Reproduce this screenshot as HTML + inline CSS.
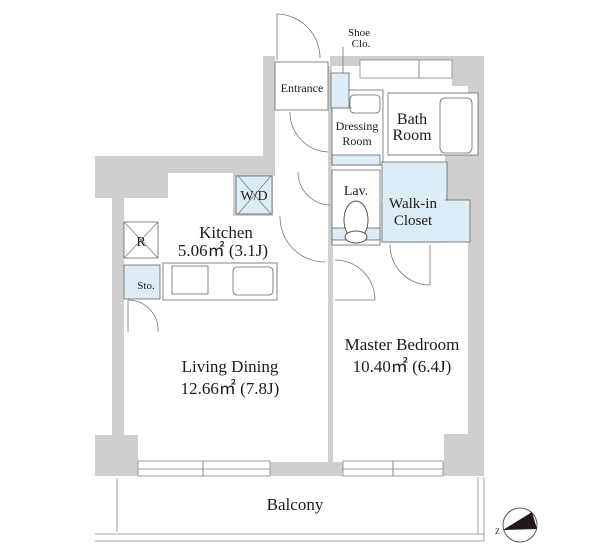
<!DOCTYPE html>
<html><head><meta charset="utf-8"><style>
html,body{margin:0;padding:0;background:#fff;width:600px;height:557px;overflow:hidden}
svg{display:block}
text{font-family:"Liberation Serif",serif;fill:#231815}
</style></head><body>
<svg width="600" height="557" viewBox="0 0 600 557" xmlns="http://www.w3.org/2000/svg">
<g fill="#cfcfcf" stroke="none">
<rect x="263" y="56" width="12" height="120"/>
<rect x="330" y="56" width="150" height="10"/>
<rect x="468" y="56" width="16" height="420"/>
<rect x="452" y="56" width="32" height="30"/>
<rect x="445" y="155" width="30" height="50"/>
<rect x="95" y="156" width="175" height="17"/>
<rect x="95" y="156" width="73" height="42"/>
<rect x="112" y="156" width="12" height="310"/>
<rect x="95" y="435" width="43" height="41"/>
<rect x="444" y="434" width="40" height="42"/>
<rect x="95" y="462" width="389" height="14"/>
<rect x="328" y="245" width="5" height="217"/>
<rect x="328" y="66" width="4" height="180"/>
<rect x="233" y="173" width="40" height="43"/>
</g>
<g fill="#fff" stroke="#888" stroke-width="0.8">
<rect x="138" y="461" width="132" height="9"/><rect x="138" y="469" width="132" height="7"/>
<rect x="343" y="461" width="100" height="9"/><rect x="343" y="469" width="100" height="7"/>
<rect x="360" y="60" width="92" height="18"/>
</g>
<line x1="203" y1="461" x2="203" y2="476" stroke="#888"/>
<line x1="393" y1="461" x2="393" y2="476" stroke="#888"/>
<line x1="419" y1="60" x2="419" y2="78" stroke="#888"/>
<g fill="#fff" stroke="#666" stroke-width="0.8">
<rect x="275" y="62" width="53" height="48"/>
<rect x="238" y="176" width="33" height="38"/>
<rect x="332" y="90" width="51" height="75"/>
<rect x="388" y="93" width="90" height="62"/>
<rect x="332" y="170" width="48" height="75"/>
<rect x="124" y="222" width="34" height="36"/>
<rect x="163" y="263" width="114" height="37"/>
<rect x="350" y="95" width="30" height="18" rx="4"/>
<rect x="440" y="98" width="32" height="55" rx="5"/>
<rect x="233" y="267" width="40" height="28" rx="4"/>
<rect x="172" y="266" width="36" height="28"/>
</g>
<g fill="#dcedf7" stroke="#666" stroke-width="0.8">
<rect x="331" y="73" width="18" height="35"/>
<rect x="236" y="176" width="36" height="38"/>
<rect x="382" y="162" width="65" height="80"/>
<rect x="382" y="200" width="88" height="42"/>
<rect x="124" y="265" width="36" height="34"/>
<rect x="332" y="155" width="48" height="10"/>
<rect x="332" y="228" width="48" height="12"/>
</g>
<line x1="382" y1="200" x2="445" y2="200" stroke="#dcedf7" stroke-width="1.5"/>
<ellipse cx="356" cy="220" rx="12" ry="19" fill="#fff" stroke="#555"/>
<ellipse cx="356" cy="237" rx="11" ry="6" fill="#fff" stroke="#555"/>
<g fill="none" stroke="#777" stroke-width="0.8">
<path d="M277 14 A44 44 0 0 1 320 58"/><line x1="277" y1="14" x2="277" y2="60"/>
<path d="M290 112 A40 40 0 0 0 328 152"/>
<path d="M280 216 A45 45 0 0 0 325 262"/>
<path d="M298 172 A33 33 0 0 0 330 205"/>
<path d="M335 260 A40 40 0 0 1 375 300"/><line x1="335" y1="300" x2="375" y2="300"/>
<path d="M390 245 A40 40 0 0 0 430 285"/><line x1="430" y1="245" x2="430" y2="285"/>
<path d="M128 300 A30 30 0 0 1 158 332"/><line x1="128" y1="300" x2="128" y2="332"/>
<line x1="238" y1="176" x2="271" y2="214"/><line x1="271" y1="176" x2="238" y2="214"/>
<line x1="124" y1="222" x2="158" y2="258"/><line x1="158" y1="222" x2="124" y2="258"/>
<line x1="335" y1="108" x2="352" y2="108"/><line x1="343" y1="47" x2="343" y2="73"/>
</g>
<g fill="none" stroke="#888" stroke-width="0.8">
<line x1="117" y1="478" x2="117" y2="532"/>
<line x1="95" y1="534" x2="484" y2="534"/>
<line x1="95" y1="541" x2="484" y2="541"/>
<line x1="478" y1="477" x2="478" y2="534"/>
<line x1="484" y1="477" x2="484" y2="541"/>
</g>
<circle cx="520" cy="525" r="17" fill="#fff" stroke="#555"/>
<polygon points="503,530 532,512 537,529" fill="#231815"/>
<text x="495" y="534" font-size="8">Z</text>
<text x="359" y="36" font-size="11" text-anchor="middle">Shoe</text>
<text x="361" y="47" font-size="11" text-anchor="middle">Clo.</text>
<text x="302" y="92" font-size="12" text-anchor="middle">Entrance</text>
<text x="357" y="130" font-size="12" text-anchor="middle">Dressing</text>
<text x="357" y="145" font-size="12" text-anchor="middle">Room</text>
<text x="412" y="124" font-size="16" text-anchor="middle">Bath</text>
<text x="412" y="140" font-size="16" text-anchor="middle">Room</text>
<text x="356" y="195" font-size="14" text-anchor="middle">Lav.</text>
<text x="413" y="208" font-size="15" text-anchor="middle">Walk-in</text>
<text x="413" y="225" font-size="15" text-anchor="middle">Closet</text>
<text x="254" y="200" font-size="14" text-anchor="middle">W/D</text>
<text x="141" y="246" font-size="14" text-anchor="middle">R</text>
<text x="226" y="238" font-size="17" text-anchor="middle">Kitchen</text>
<text x="223" y="256" font-size="17" text-anchor="middle">5.06㎡ (3.1J)</text>
<text x="146" y="289" font-size="11" text-anchor="middle">Sto.</text>
<text x="230" y="372" font-size="17" text-anchor="middle">Living Dining</text>
<text x="230" y="394" font-size="17" text-anchor="middle">12.66㎡ (7.8J)</text>
<text x="402" y="350" font-size="17" text-anchor="middle">Master Bedroom</text>
<text x="402" y="372" font-size="17" text-anchor="middle">10.40㎡ (6.4J)</text>
<text x="295" y="510" font-size="17" text-anchor="middle">Balcony</text>
</svg>
</body></html>
